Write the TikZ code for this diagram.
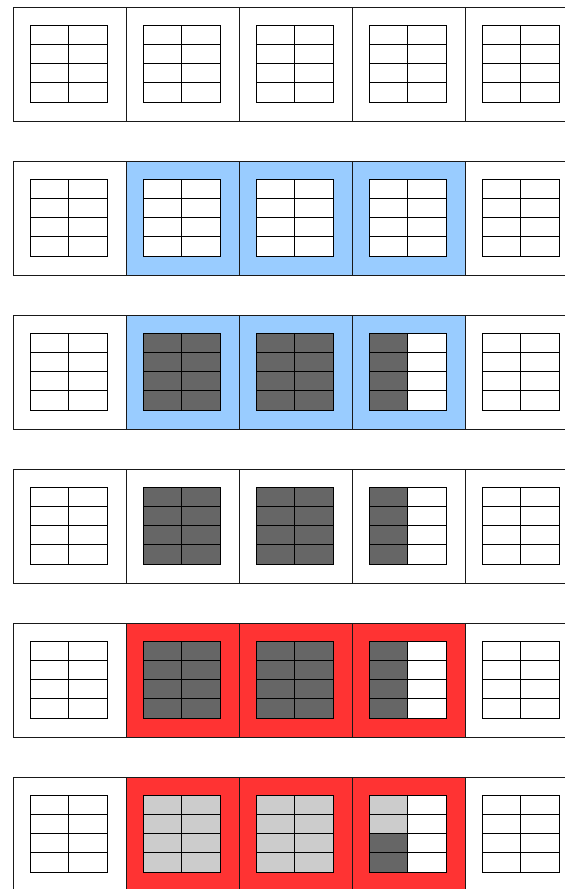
\documentclass[tikz,border=0pt]{standalone}
\usepackage{xcolor}

\definecolor{selblue}{HTML}{99CCFF}
\definecolor{selred}{HTML}{FF3333}
\definecolor{darkcell}{HTML}{666666}
\definecolor{lightcell}{HTML}{CCCCCC}

\begin{document}
\begin{tikzpicture}[x=0.03cm, y=-0.03cm,
  square/.style={draw=black!90, line width=0.8pt},
  cellline/.style={draw=black, line width=0.8pt}
]
  \clip (0,0) rectangle (565,889);
  \fill[white] (0,0) rectangle (565,889);

  % coloured squares (columns 2 to 4)
  \foreach \r/\col in {1/selblue, 2/selblue, 4/selred, 5/selred}
    \fill[\col] (126,{7+154*\r}) rectangle ++(339,114);

  % white grid backgrounds
  \foreach \r in {0,...,5}
    \foreach \c in {0,...,4}
      \fill[white] ({30+113*\c},{25+154*\r}) rectangle ++(77,77);

  % dark cells
  \foreach \r in {2,3,4} {
    \fill[darkcell] (143,{25+154*\r}) rectangle ++(77,77);
    \fill[darkcell] (256,{25+154*\r}) rectangle ++(77,77);
    \fill[darkcell] (369,{25+154*\r}) rectangle ++(38.5,77);
  }

  % last row: light cells
  \fill[lightcell] (143,795) rectangle ++(77,77);
  \fill[lightcell] (256,795) rectangle ++(77,77);
  \fill[lightcell] (369,795) rectangle ++(38.5,38.5);
  \fill[darkcell] (369,833.5) rectangle ++(38.5,38.5);

  % frames and grids
  \foreach \r in {0,...,5}
    \foreach \c in {0,...,4} {
      \draw[square] ({13+113*\c},{7+154*\r}) rectangle ++(113,114);
      \draw[cellline] ({30+113*\c},{25+154*\r}) rectangle ++(77,77);
      \draw[cellline] ({68.5+113*\c},{25+154*\r}) -- ++(0,77);
      \foreach \k in {1,2,3}
        \draw[cellline] ({30+113*\c},{25+154*\r+19.25*\k}) -- ++(77,0);
    }
\end{tikzpicture}
\end{document}
